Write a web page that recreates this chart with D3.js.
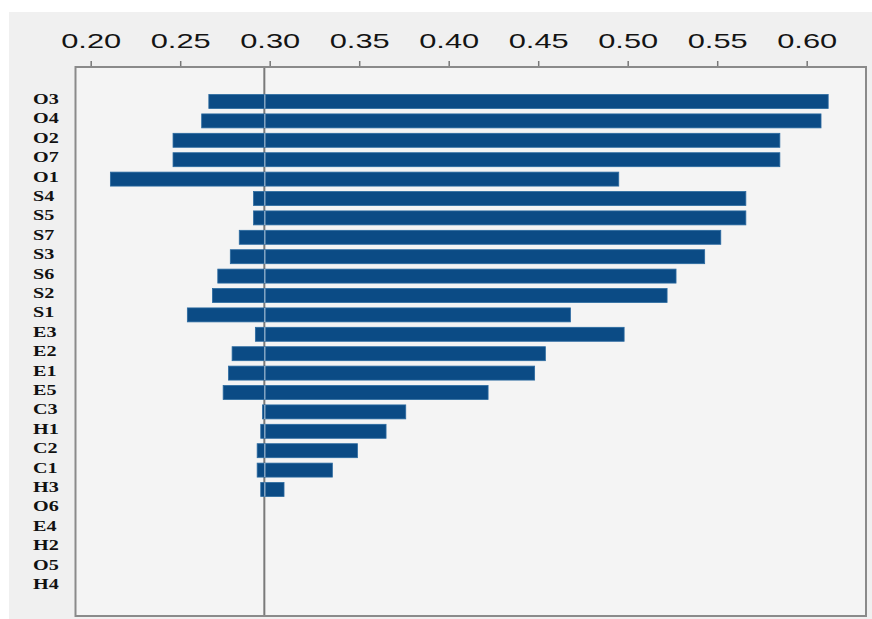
<!DOCTYPE html>
<html>
<head>
<meta charset="utf-8">
<script src="https://cdn.jsdelivr.net/npm/d3@7"></script>
<style>
  html, body { margin: 0; padding: 0; background: #ffffff; }
  svg { display: block; }
</style>
</head>
<body>
<svg id="chart" width="872" height="619"></svg>
<script>
// ---- data ----
const categories = ["O3","O4","O2","O7","O1","S4","S5","S7","S3","S6","S2","S1",
                    "E3","E2","E1","E5","C3","H1","C2","C1","H3","O6","E4","H2","O5","H4"];
const lowValues  = [0.266,0.262,0.246,0.246,0.211,0.291,0.291,0.283,0.278,0.271,0.268,0.254,
                    0.292,0.279,0.277,0.274,0.296,0.295,0.293,0.293,0.295,0.297,0.297,0.297,0.297,0.297];
const highValues = [0.612,0.608,0.585,0.585,0.495,0.566,0.566,0.552,0.543,0.527,0.522,0.468,
                    0.498,0.454,0.448,0.422,0.376,0.365,0.349,0.335,0.308,0.297,0.297,0.297,0.297,0.297];
const baseValue = 0.297;
const tickValues = [0.20,0.25,0.30,0.35,0.40,0.45,0.50,0.55,0.60];

// ---- layout ----
const svg = d3.select("#chart");
const frame = {left: 75.5, right: 866, top: 67, bottom: 616};

const x = d3.scaleLinear().domain([0.20, 0.60]).range([90.7, 806.7]);
const y = d3.scaleBand().domain(categories)
  .range([91.8, 91.8 + 26 * 19.4])
  .paddingInner(0.28).paddingOuter(0.14);

const rows = categories.map((c, i) => ({c, lo: lowValues[i], hi: highValues[i]}));

// outer panel
svg.append("rect").attr("x", 9).attr("y", 12).attr("width", 863).attr("height", 607)
  .attr("fill", "#f0f0f0");
// plot area
svg.append("rect").attr("x", frame.left).attr("y", frame.top)
  .attr("width", frame.right - frame.left).attr("height", frame.bottom - frame.top)
  .attr("fill", "#f4f4f4");

// top axis
const axis = d3.axisTop(x).tickValues(tickValues).tickFormat(d3.format(".2f"))
  .tickSize(6).tickPadding(0);
const gAxis = svg.append("g").attr("transform", `translate(0,${frame.top})`).call(axis);
gAxis.select(".domain").remove();
gAxis.selectAll(".tick line").attr("stroke", "#777").attr("stroke-width", 1.5);
gAxis.selectAll(".tick text")
  .attr("y", -19)
  .attr("fill", "#141414")
  .attr("font-family", "'Liberation Sans', Arial, sans-serif")
  .attr("font-size", 21)
  .attr("textLength", 60)
  .attr("lengthAdjust", "spacingAndGlyphs")
  .attr("x", -30)
  .attr("text-anchor", "start");

// reference line
svg.append("line")
  .attr("x1", x(baseValue)).attr("x2", x(baseValue))
  .attr("y1", frame.top).attr("y2", frame.bottom)
  .attr("stroke", "#7a7a7a").attr("stroke-width", 2);

// bars
svg.append("g").selectAll("rect")
  .data(rows)
  .join("rect")
  .attr("x", d => x(d.lo))
  .attr("y", d => y(d.c))
  .attr("width", d => Math.max(0, x(d.hi) - x(d.lo)))
  .attr("height", y.bandwidth())
  .attr("fill", "#0b4b85")
  .attr("stroke", d => d.hi > d.lo ? "#2b6aa0" : "none")
  .attr("stroke-width", 0.8);

// light streak where reference line crosses bars
svg.append("g").selectAll("line")
  .data(rows.filter(d => d.hi > d.lo))
  .join("line")
  .attr("x1", x(baseValue) + 0.5).attr("x2", x(baseValue) + 0.5)
  .attr("y1", d => y(d.c))
  .attr("y2", d => y(d.c) + y.bandwidth())
  .attr("stroke", "#c9d8e8")
  .attr("stroke-width", 1.2)
  .attr("opacity", 0.8);

// category labels
const gLab = svg.append("g");
categories.forEach((c) => {
  const cy = y(c) + y.bandwidth() / 2 - 3;
  gLab.append("text")
    .attr("transform", `translate(33,${cy}) scale(1.3,1)`)
    .attr("dy", "0.35em")
    .attr("font-family", "'Liberation Serif', 'Times New Roman', serif")
    .attr("font-weight", "bold")
    .attr("font-size", 15.5)
    .attr("fill", "#111")
    .text(c);
});

// frame
svg.append("rect").attr("x", frame.left).attr("y", frame.top)
  .attr("width", frame.right - frame.left).attr("height", frame.bottom - frame.top)
  .attr("fill", "none").attr("stroke", "#8a8a8a").attr("stroke-width", 2);
</script>
</body>
</html>
